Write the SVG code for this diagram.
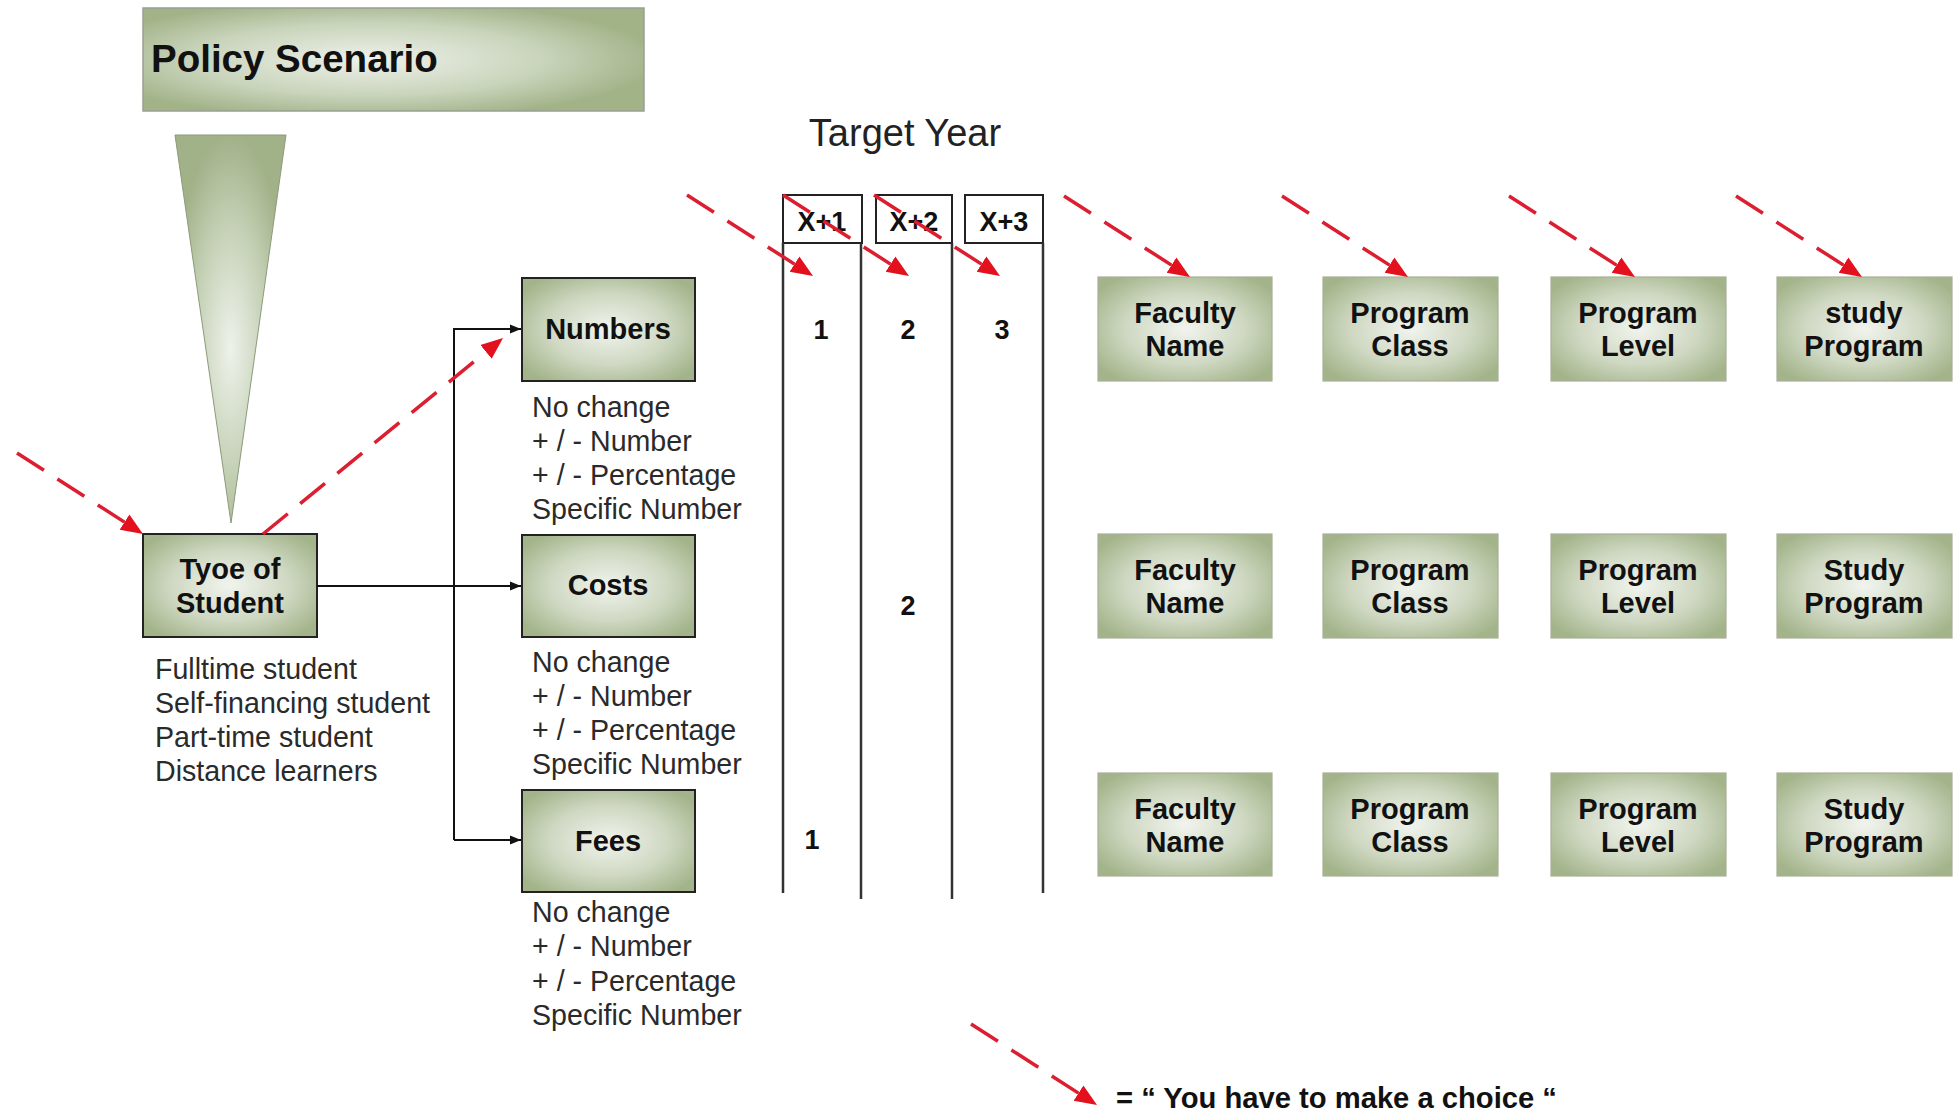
<svg xmlns="http://www.w3.org/2000/svg" width="1957" height="1114" viewBox="0 0 1957 1114">
<defs>
<radialGradient id="gBox" cx="50%" cy="50%" r="62%">
<stop offset="0%" stop-color="#f1f4ee"/>
<stop offset="55%" stop-color="#cfd8c2"/>
<stop offset="100%" stop-color="#a3b48a"/>
</radialGradient>
<radialGradient id="gTitle" cx="45%" cy="50%" r="58%">
<stop offset="0%" stop-color="#eef1ea"/>
<stop offset="60%" stop-color="#c9d4bb"/>
<stop offset="100%" stop-color="#a2b388"/>
</radialGradient>
<radialGradient id="gTri" cx="50%" cy="55%" r="55%">
<stop offset="0%" stop-color="#eef2eb"/>
<stop offset="60%" stop-color="#c3cfb3"/>
<stop offset="100%" stop-color="#a1b188"/>
</radialGradient>
<marker id="redHead" markerUnits="userSpaceOnUse" markerWidth="24" markerHeight="20" refX="0" refY="9" orient="auto" viewBox="0 0 24 18">
<path d="M0,0 L22,9 L0,18 z" fill="#e3101e"/>
</marker>
<marker id="blkHead" markerUnits="userSpaceOnUse" markerWidth="12" markerHeight="10" refX="11" refY="4.5" orient="auto" viewBox="0 0 12 9">
<path d="M0,0 L11,4.5 L0,9 z" fill="#111"/>
</marker>
<style>
.box{fill:url(#gBox);stroke:#222;stroke-width:2}
.box2{fill:url(#gBox);stroke:#a7b098;stroke-width:1.2}
.lbl{font-family:"Liberation Sans",Arial,sans-serif;font-weight:bold;font-size:29px;fill:#111;text-anchor:middle}
.lst{font-family:"Liberation Sans",Arial,sans-serif;font-size:28.6px;fill:#2a2a2a}
.num{font-family:"Liberation Sans",Arial,sans-serif;font-weight:bold;font-size:27px;fill:#111;text-anchor:middle}
.red{stroke:#dc1e30;stroke-width:3.5;stroke-dasharray:32 16;fill:none;marker-end:url(#redHead)}
.blk{stroke:#111;stroke-width:2;fill:none}
.col{stroke:#333;stroke-width:2.5;fill:none}
.hdr{fill:#fff;stroke:#222;stroke-width:2}
</style>
</defs>
<rect width="1957" height="1114" fill="#fff"/>

<g id="policy-scenario">
<rect x="143" y="8" width="501" height="103" fill="url(#gTitle)" stroke="#9a9f94" stroke-width="1.5"/>
<text x="151" y="72" font-family="Liberation Sans, Arial, sans-serif" font-weight="bold" font-size="38.5" fill="#111">Policy Scenario</text>
</g>

<g id="funnel">
<polygon points="175,135 286,135 231,523" fill="url(#gTri)" stroke="#8c9a7c" stroke-width="1"/>
</g>

<g id="type-of-student">
<rect class="box" x="143" y="534" width="174" height="103"/>
<text class="lbl" x="230" y="579">Tyoe of</text>
<text class="lbl" x="230" y="613">Student</text>
<text class="lst" x="155" y="679">Fulltime student</text>
<text class="lst" x="155" y="713">Self-financing student</text>
<text class="lst" x="155" y="747">Part-time student</text>
<text class="lst" x="155" y="781">Distance learners</text>
</g>

<g id="numbers">
<rect class="box" x="522" y="278" width="173" height="103"/>
<text class="lbl" x="608" y="339">Numbers</text>
<text class="lst" x="532" y="417">No change</text>
<text class="lst" x="532" y="451">+ / - Number</text>
<text class="lst" x="532" y="485">+ / - Percentage</text>
<text class="lst" x="532" y="519">Specific Number</text>
</g>

<g id="costs">
<rect class="box" x="522" y="535" width="173" height="102"/>
<text class="lbl" x="608" y="595">Costs</text>
<text class="lst" x="532" y="672">No change</text>
<text class="lst" x="532" y="706">+ / - Number</text>
<text class="lst" x="532" y="740">+ / - Percentage</text>
<text class="lst" x="532" y="774">Specific Number</text>
</g>

<g id="fees">
<rect class="box" x="522" y="790" width="173" height="102"/>
<text class="lbl" x="608" y="851">Fees</text>
<text class="lst" x="532" y="922">No change</text>
<text class="lst" x="532" y="956">+ / - Number</text>
<text class="lst" x="532" y="991">+ / - Percentage</text>
<text class="lst" x="532" y="1025">Specific Number</text>
</g>

<g id="target-year">
<text x="905" y="146" font-family="Liberation Sans, Arial, sans-serif" font-size="38" fill="#222" text-anchor="middle">Target Year</text>
<rect class="hdr" x="783" y="195" width="79" height="48"/>
<rect class="hdr" x="876" y="195" width="76" height="48"/>
<rect class="hdr" x="965" y="195" width="78" height="48"/>
<text class="num" x="822" y="231">X+1</text>
<text class="num" x="914" y="231">X+2</text>
<text class="num" x="1004" y="231">X+3</text>
<line class="col" x1="783" y1="243" x2="783" y2="893"/>
<line class="col" x1="861" y1="243" x2="861" y2="899"/>
<line class="col" x1="952" y1="243" x2="952" y2="899"/>
<line class="col" x1="1043" y1="243" x2="1043" y2="893"/>
<text class="num" x="821" y="339">1</text>
<text class="num" x="908" y="339">2</text>
<text class="num" x="1002" y="339">3</text>
<text class="num" x="908" y="615">2</text>
<text class="num" x="812" y="849">1</text>
</g>

<g id="faculty-name-1"><rect class="box2" x="1098" y="277" width="174" height="104"/><text class="lbl" x="1185" y="323">Faculty</text><text class="lbl" x="1185" y="356">Name</text></g>
<g id="program-class-1"><rect class="box2" x="1323" y="277" width="175" height="104"/><text class="lbl" x="1410" y="323">Program</text><text class="lbl" x="1410" y="356">Class</text></g>
<g id="program-level-1"><rect class="box2" x="1551" y="277" width="175" height="104"/><text class="lbl" x="1638" y="323">Program</text><text class="lbl" x="1638" y="356">Level</text></g>
<g id="study-program-1"><rect class="box2" x="1777" y="277" width="175" height="104"/><text class="lbl" x="1864" y="323">study</text><text class="lbl" x="1864" y="356">Program</text></g>

<g id="faculty-name-2"><rect class="box2" x="1098" y="534" width="174" height="104"/><text class="lbl" x="1185" y="580">Faculty</text><text class="lbl" x="1185" y="613">Name</text></g>
<g id="program-class-2"><rect class="box2" x="1323" y="534" width="175" height="104"/><text class="lbl" x="1410" y="580">Program</text><text class="lbl" x="1410" y="613">Class</text></g>
<g id="program-level-2"><rect class="box2" x="1551" y="534" width="175" height="104"/><text class="lbl" x="1638" y="580">Program</text><text class="lbl" x="1638" y="613">Level</text></g>
<g id="study-program-2"><rect class="box2" x="1777" y="534" width="175" height="104"/><text class="lbl" x="1864" y="580">Study</text><text class="lbl" x="1864" y="613">Program</text></g>

<g id="faculty-name-3"><rect class="box2" x="1098" y="773" width="174" height="103"/><text class="lbl" x="1185" y="819">Faculty</text><text class="lbl" x="1185" y="852">Name</text></g>
<g id="program-class-3"><rect class="box2" x="1323" y="773" width="175" height="103"/><text class="lbl" x="1410" y="819">Program</text><text class="lbl" x="1410" y="852">Class</text></g>
<g id="program-level-3"><rect class="box2" x="1551" y="773" width="175" height="103"/><text class="lbl" x="1638" y="819">Program</text><text class="lbl" x="1638" y="852">Level</text></g>
<g id="study-program-3"><rect class="box2" x="1777" y="773" width="175" height="103"/><text class="lbl" x="1864" y="819">Study</text><text class="lbl" x="1864" y="852">Program</text></g>

<g id="legend">
<text x="1116" y="1108" font-family="Liberation Sans, Arial, sans-serif" font-weight="bold" font-size="29.2" fill="#111">= “ You have to make a choice “</text>
</g>

<g id="connectors">
<polyline class="blk" points="454,840 454,329 521,329" marker-end="url(#blkHead)"/>
<line class="blk" x1="317" y1="586" x2="521" y2="586" marker-end="url(#blkHead)"/>
<line class="blk" x1="454" y1="840" x2="521" y2="840" marker-end="url(#blkHead)"/>

<line class="red" x1="17" y1="453" x2="124.5" y2="522.1"/>
<line class="red" x1="263" y1="534" x2="486" y2="351.9"/>
<line class="red" x1="687" y1="195" x2="794.5" y2="264.1"/>
<line class="red" x1="783" y1="195" x2="890.5" y2="264.1"/>
<line class="red" x1="874" y1="195" x2="981.5" y2="264.1"/>
<line class="red" x1="1064" y1="196" x2="1171.5" y2="265.1"/>
<line class="red" x1="1282" y1="196" x2="1389.5" y2="265.1"/>
<line class="red" x1="1509" y1="196" x2="1616.5" y2="265.1"/>
<line class="red" x1="1736" y1="196" x2="1843.5" y2="265.1"/>
<line class="red" x1="971" y1="1024" x2="1078.5" y2="1093.1"/>
</g>
</svg>
